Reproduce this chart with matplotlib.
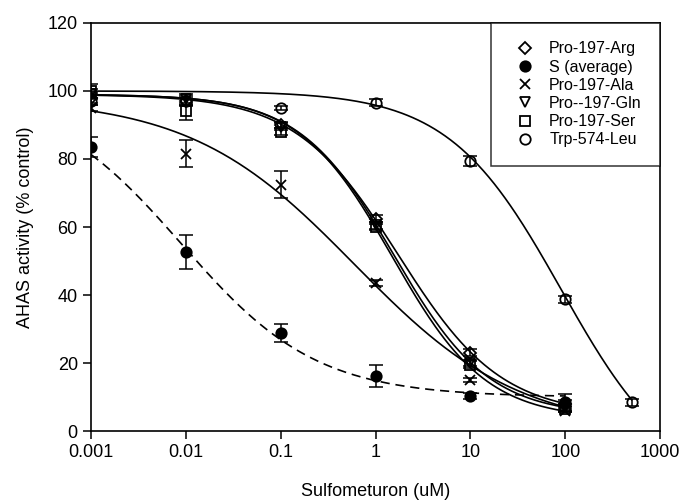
import numpy as np
import matplotlib
matplotlib.use("Agg")
import matplotlib.pyplot as plt

plt.rcParams['font.family'] = ['Liberation Sans', 'DejaVu Sans']

# ---- data ----
dose = [0.001, 0.01, 0.1, 1, 10, 100]
dose_trp = [0.001, 0.01, 0.1, 1, 10, 100, 500]

labels = ["Pro-197-Arg", "S (average)", "Pro-197-Ala", "Pro--197-Gln", "Pro-197-Ser", "Trp-574-Leu"]

arg_y = [98, 97, 90, 62.5, 23, 8]
arg_e = [1.5, 1.5, 1, 1, 1, 1]
s_y = [83.5, 52.6, 28.8, 16.2, 10.3, 8.5]
s_e = [3, 5, 2.6, 3.2, 1, 2.5]
ala_y = [95, 81.5, 72.5, 43.5, 15, 6]
ala_e = [1, 4, 4, 0.8, 0.5, 0.5]
gln_y = [99, 97.5, 89.5, 60.5, 20, 7]
gln_e = [1.5, 1.5, 1, 1, 1, 1]
ser_y = [100, 94, 88, 60, 19.5, 6.5]
ser_e = [2, 2.5, 1, 1, 1, 1]
trp_y = [97, 97, 95, 96.5, 79.5, 38.7, 8.5]
trp_e = [1, 1, 0.5, 1, 1.5, 1, 1]

# fitted 4-parameter logistic curves (parameters)
fit_top = [99, 100, 98, 99, 99, 100]
fit_bottom = [4.5, 10, 0, 4.5, 3.5, -17]
fit_ec50 = [1.74, 0.009, 0.6, 1.56, 1.5, 91]
fit_slope = [0.8, 0.61, 0.5, 0.87, 0.88, 0.73]
fit_xmax = [100, 100, 100, 100, 100, 500]
fit_style = ['-', (0, (5.5, 3.5)), '-', '-', '-', '-']

xs_list = [dose, dose, dose, dose, dose, dose_trp]
ys_list = [arg_y, s_y, ala_y, gln_y, ser_y, trp_y]
es_list = [arg_e, s_e, ala_e, gln_e, ser_e, trp_e]
markers = ['D', 'o', 'x', 'v', 's', 'o']
msizes = [6.5, 7.5, 7.5, 7.5, 6.5, 7.5]
filled = [False, True, True, False, False, False]

fig = plt.figure(figsize=(6.82, 5.03), dpi=100)
ax = fig.add_axes([0.1334, 0.1431, 0.968 - 0.1334, 0.9543 - 0.1431])

for i in range(6):
    xx = np.logspace(-3, np.log10(fit_xmax[i]), 300)
    yy = fit_bottom[i] + (fit_top[i] - fit_bottom[i]) / (1 + (xx / fit_ec50[i]) ** fit_slope[i])
    ax.plot(xx, yy, color='black', lw=1.2, linestyle=fit_style[i], zorder=2)

handles = []
for i in range(6):
    ax.errorbar(xs_list[i], ys_list[i], yerr=es_list[i], fmt='none', ecolor='black',
                elinewidth=1.1, capsize=5, capthick=1.1, zorder=3)
    fc = 'black' if filled[i] else 'none'
    h, = ax.plot(xs_list[i], ys_list[i], linestyle='none', marker=markers[i],
                 markersize=msizes[i], markerfacecolor=fc, markeredgecolor='black',
                 markeredgewidth=1.3, color='black', zorder=4, label=labels[i])
    handles.append(h)

ax.set_xscale('log')
ax.set_xlim(0.001, 1000)
ax.set_ylim(0, 120)
ax.set_xticks([0.001, 0.01, 0.1, 1, 10, 100, 1000])
ax.set_xticklabels(["0.001", "0.01", "0.1", "1", "10", "100", "1000"])
ax.xaxis.set_minor_locator(matplotlib.ticker.NullLocator())
ax.set_yticks([0, 20, 40, 60, 80, 100, 120])
ax.tick_params(axis='both', which='major', direction='out', length=6, width=1.1,
               labelsize=13, colors='black', top=False, right=False)
for s in ax.spines.values():
    s.set_linewidth(1.2)
    s.set_color('black')

ax.set_xlabel("Sulfometuron (uM)", fontsize=13, labelpad=16)
ax.set_ylabel("AHAS activity (% control)", fontsize=13, labelpad=10)

leg = ax.legend(handles=handles, loc='upper right', borderaxespad=0, fontsize=11.5,
                frameon=True, fancybox=False, edgecolor='black', labelspacing=0.2,
                handlelength=2.0, handletextpad=0.5, borderpad=1.15)
leg.get_frame().set_linewidth(1.1)

fig.savefig("out.png", dpi=100)
